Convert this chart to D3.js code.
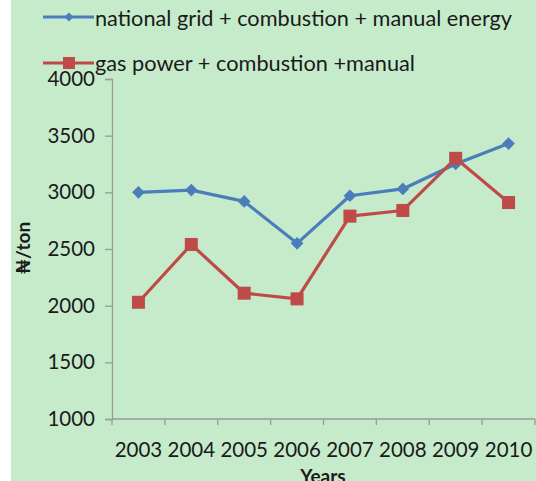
<!DOCTYPE html>
<html>
<head>
<meta charset="utf-8">
<script src="https://cdn.jsdelivr.net/npm/d3@7"></script>
<style>
  body { margin: 0; background: #fff; }
  svg { display: block; }
  text { font-family: Lato, "Open Sans", sans-serif; fill: #1a1a1a; }
</style>
</head>
<body>
<div id="chart"></div>
<script>
// chart data
const years = ["2003", "2004", "2005", "2006", "2007", "2008", "2009", "2010"];
const gridValues = [3000, 3020, 2920, 2550, 2970, 3030, 3250, 3430];
const gasValues = [2030, 2540, 2110, 2060, 2790, 2840, 3300, 2910];
const yTicks = [1000, 1500, 2000, 2500, 3000, 3500, 4000];
const seriesNames = ["national grid + combustion + manual energy", "gas power + combustion +manual"];

const width = 536, height = 481;
const blue = "#4a7ebb", red = "#be4b48";

const svg = d3.select("#chart").append("svg")
    .attr("width", width)
    .attr("height", height);

// green background
svg.append("rect")
    .attr("x", 11).attr("y", 0)
    .attr("width", width - 11).attr("height", height)
    .attr("fill", "#c6ebcb");

const x = d3.scaleBand().domain(years).range([112, 535]);
const y = d3.scaleLinear().domain([1000, 4000]).range([419, 79]);

// y axis
const yAxis = svg.append("g")
    .attr("transform", "translate(112,0)")
    .call(d3.axisLeft(y).tickValues(yTicks).tickSize(7).tickPadding(10).tickFormat(d3.format("d")));
yAxis.select(".domain").attr("stroke", "#9a9a9a").attr("stroke-width", 1.3);
yAxis.selectAll(".tick line").attr("stroke", "#9a9a9a").attr("stroke-width", 1.3);
yAxis.selectAll(".tick text").attr("font-size", 20.5).attr("fill", "#1a1a1a")
    .style("font-family", "Lato, sans-serif");

// x axis
const xAxis = svg.append("g")
    .attr("transform", "translate(0,419)");
xAxis.append("line")
    .attr("x1", 112).attr("x2", 535)
    .attr("stroke", "#9a9a9a").attr("stroke-width", 1.3);
const xEdges = years.map(d => x(d)).concat([535]);
xAxis.selectAll("line.tk")
    .data(xEdges)
    .enter().append("line")
    .attr("class", "tk")
    .attr("x1", d => d).attr("x2", d => d)
    .attr("y1", 0).attr("y2", 6)
    .attr("stroke", "#9a9a9a").attr("stroke-width", 1.3);
xAxis.selectAll("text.lbl")
    .data(years)
    .enter().append("text")
    .attr("class", "lbl")
    .attr("x", d => x(d) + x.bandwidth() / 2)
    .attr("y", 38)
    .attr("text-anchor", "middle")
    .attr("font-size", 20.5)
    .text(d => d);

// axis titles
svg.append("text")
    .attr("transform", "translate(30,248) rotate(-90)")
    .attr("text-anchor", "middle")
    .attr("font-size", 19)
    .attr("font-weight", "bold")
    .text("₦/ton");

svg.append("text")
    .attr("x", 323).attr("y", 483)
    .attr("text-anchor", "middle")
    .attr("font-size", 19)
    .attr("font-weight", "bold")
    .text("Years");

// lines
const line = d3.line()
    .x((d, i) => x(years[i]) + x.bandwidth() / 2)
    .y(d => y(d));

svg.append("path")
    .datum(gridValues)
    .attr("d", line)
    .attr("fill", "none")
    .attr("stroke", blue)
    .attr("stroke-width", 3.2)
    .attr("stroke-linejoin", "round");

svg.append("path")
    .datum(gasValues)
    .attr("d", line)
    .attr("fill", "none")
    .attr("stroke", red)
    .attr("stroke-width", 3.2)
    .attr("stroke-linejoin", "round");

const diamond = d3.symbol().type(d3.symbolSquare).size(80);

svg.selectAll("path.dia")
    .data(gridValues)
    .enter().append("path")
    .attr("class", "dia")
    .attr("d", diamond)
    .attr("transform", (d, i) => `translate(${x(years[i]) + x.bandwidth() / 2},${y(d)}) rotate(45)`)
    .attr("fill", blue);

svg.selectAll("rect.sq")
    .data(gasValues)
    .enter().append("rect")
    .attr("class", "sq")
    .attr("x", (d, i) => x(years[i]) + x.bandwidth() / 2 - 6.5)
    .attr("y", d => y(d) - 6.5)
    .attr("width", 13).attr("height", 13)
    .attr("fill", red);

// legend
const legend = svg.append("g");
legend.append("line")
    .attr("x1", 43).attr("x2", 94).attr("y1", 17).attr("y2", 17)
    .attr("stroke", blue).attr("stroke-width", 3.2);
legend.append("path")
    .attr("d", d3.symbol().type(d3.symbolSquare).size(40))
    .attr("transform", "translate(69,17) rotate(45)")
    .attr("fill", blue);
legend.append("text")
    .attr("x", 95).attr("y", 26)
    .attr("font-size", 22)
    .attr("textLength", 417)
    .attr("lengthAdjust", "spacingAndGlyphs")
    .text(seriesNames[0]);

legend.append("line")
    .attr("x1", 43).attr("x2", 94).attr("y1", 63).attr("y2", 63)
    .attr("stroke", red).attr("stroke-width", 3.2);
legend.append("rect")
    .attr("x", 63).attr("y", 57).attr("width", 12).attr("height", 12)
    .attr("fill", red);
legend.append("text")
    .attr("x", 95).attr("y", 71)
    .attr("font-size", 22)
    .attr("textLength", 320)
    .attr("lengthAdjust", "spacingAndGlyphs")
    .text(seriesNames[1]);
</script>
</body>
</html>
